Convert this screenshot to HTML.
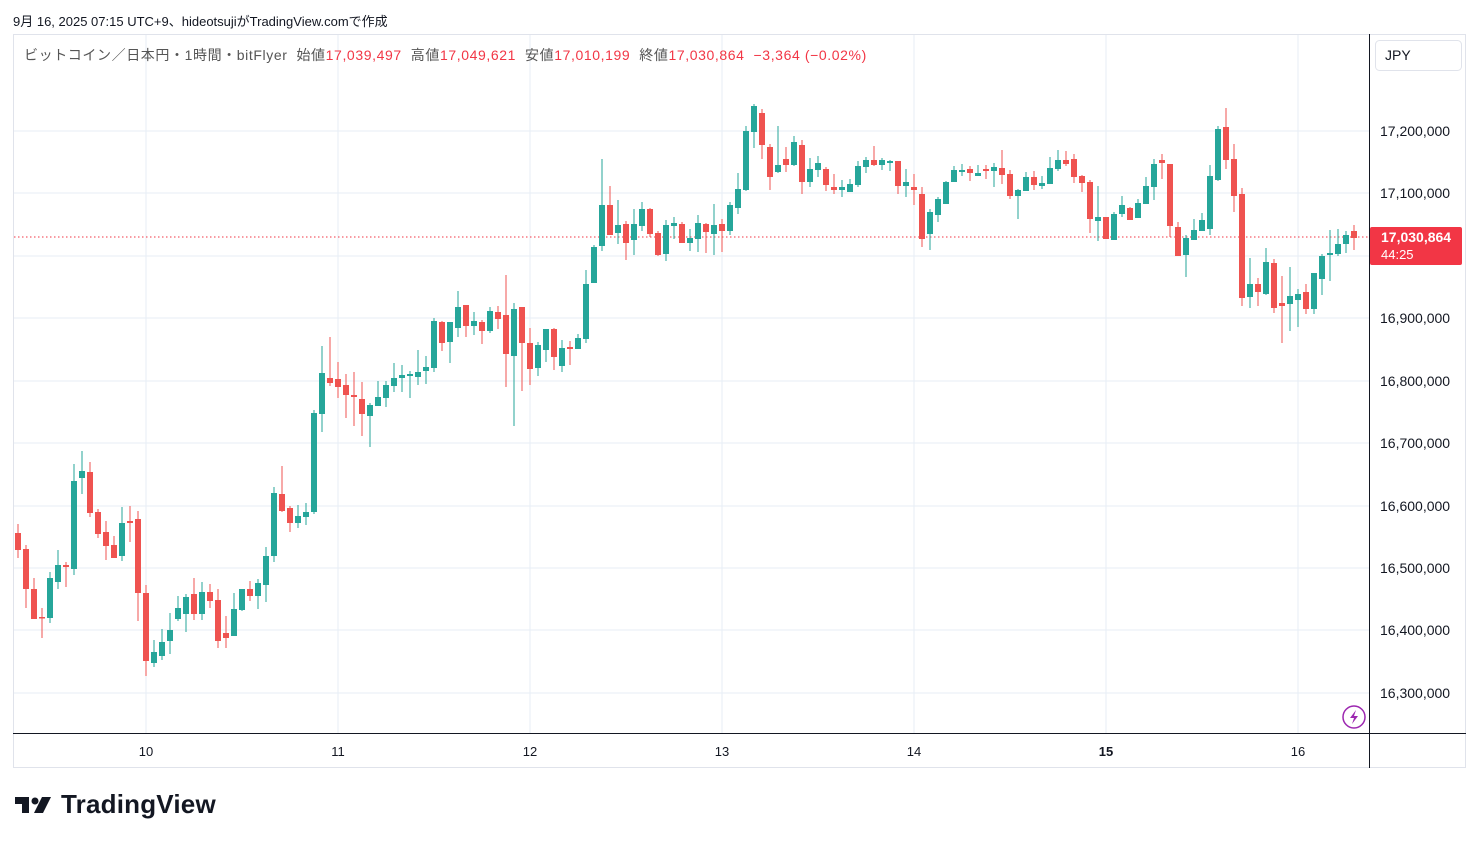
<!DOCTYPE html>
<html><head><meta charset="utf-8">
<style>
body{margin:0;width:1479px;height:843px;background:#fff;overflow:hidden;font-family:"Liberation Sans","Noto Sans CJK JP",sans-serif;}
.t{position:absolute;white-space:nowrap}
</style></head><body>
<div class="t" style="left:13px;top:11px;font-size:13px;color:#131722">9月 16, 2025 07:15 UTC+9、hideotsujiがTradingView.comで作成</div>
<svg id="s" width="1479" height="843" style="position:absolute;left:0;top:0"></svg>
<div class="t" style="left:24px;top:45px;font-size:14px;letter-spacing:0.6px;color:#555">ビットコイン／日本円・1時間・bitFlyer&nbsp; 始値<span style="color:#f23645">17,039,497</span>&nbsp; 高値<span style="color:#f23645">17,049,621</span>&nbsp; 安値<span style="color:#f23645">17,010,199</span>&nbsp; 終値<span style="color:#f23645">17,030,864</span>&nbsp; <span style="color:#f23645">−3,364 (−0.02%)</span></div>
<div class="t" style="left:15px;top:789px;font-size:26px;font-weight:bold;color:#131722;letter-spacing:0.2px">
<span style="display:inline-block;width:46px">
<svg width="38" height="20" viewBox="0 0 38 20" style="vertical-align:-2px"><path d="M0 2h14v16h-7v-9h-7z" fill="#131722"/><circle cx="20" cy="6" r="3.5" fill="#131722"/><path d="M27 2h9l-8 16h-9z" fill="#131722"/></svg></span>TradingView</div>
<script>
const D=[
[533,550,524,558,'r'],[549,589,545,608,'r'],[589,619,578,619,'r'],[617,618,608,638,'r'],[578,618,572,623,'g'],[565,582,550,589,'g'],[565,567,562,587,'r'],[481,569,464,575,'g'],[471,478,451,494,'g'],[472,513,462,517,'r'],
[512,534,509,538,'r'],[532,546,521,560,'r'],[545,558,536,558,'r'],[523,556,507,561,'g'],[521,523,506,542,'r'],[519,593,511,621,'r'],[593,661,585,676,'r'],[652,663,640,667,'g'],[642,656,629,660,'g'],[630,641,613,654,'g'],
[608,619,596,621,'g'],[597,614,594,632,'g'],[594,614,578,620,'r'],[592,614,582,620,'g'],[592,601,584,608,'r'],[600,641,589,648,'r'],[633,638,616,648,'r'],[609,636,593,636,'g'],[589,610,589,611,'g'],[589,596,581,601,'r'],
[583,596,579,609,'g'],[556,585,547,602,'g'],[493,556,487,562,'g'],[494,511,466,512,'r'],[508,523,506,532,'r'],[516,523,505,528,'g'],[512,517,503,525,'g'],[413,512,410,514,'g'],[373,414,346,432,'g'],[378,383,337,386,'r'],
[379,387,362,398,'r'],[385,395,374,418,'r'],[395,397,372,426,'r'],[399,414,382,436,'r'],[405,416,403,447,'g'],[397,406,381,406,'g'],[385,398,381,407,'g'],[378,386,363,392,'g'],[375,378,365,392,'g'],[374,376,371,398,'g'],
[372,377,350,385,'g'],[367,371,356,384,'g'],[321,368,318,372,'g'],[322,343,321,351,'r'],[322,342,322,363,'g'],[307,328,291,337,'g'],[305,326,305,337,'r'],[321,326,312,335,'g'],[322,331,320,344,'r'],[311,331,307,333,'g'],
[312,319,306,329,'r'],[315,354,275,387,'r'],[309,356,303,426,'g'],[307,343,307,391,'r'],[343,369,328,385,'r'],[345,368,342,376,'g'],[329,350,329,362,'g'],[329,357,328,370,'r'],[348,366,340,372,'g'],[347,349,341,365,'r'],
[338,349,334,349,'g'],[284,339,270,343,'g'],[247,283,245,283,'g'],[205,246,159,251,'g'],[205,235,186,235,'r'],[225,233,200,244,'g'],[224,243,221,260,'r'],[224,240,209,255,'g'],[209,226,202,231,'g'],[209,234,208,237,'r'],
[233,255,231,256,'r'],[225,254,220,261,'g'],[223,226,217,239,'g'],[224,243,222,243,'r'],[238,243,229,251,'g'],[223,239,215,252,'g'],[224,232,223,253,'r'],[225,234,204,255,'g'],[224,231,219,252,'r'],[205,231,202,235,'g'],
[189,208,173,214,'g'],[131,190,126,191,'g'],[106,132,104,148,'g'],[113,145,109,159,'r'],[147,177,144,190,'r'],[165,172,126,173,'g'],[159,165,147,172,'r'],[142,165,136,166,'g'],[145,182,140,194,'r'],[169,182,158,187,'g'],
[163,170,156,177,'g'],[169,185,167,191,'r'],[187,190,174,194,'r'],[187,190,180,197,'g'],[184,192,179,192,'g'],[166,185,161,187,'g'],[160,167,157,173,'g'],[160,165,146,166,'r'],[160,165,158,170,'g'],[161,163,160,171,'g'],
[161,186,161,194,'r'],[182,186,169,197,'g'],[187,190,174,205,'r'],[194,239,187,247,'r'],[212,234,209,250,'g'],[199,215,197,222,'g'],[182,204,181,204,'g'],[170,182,166,182,'g'],[170,172,164,176,'g'],[169,173,166,181,'r'],
[173,176,165,176,'g'],[169,171,165,179,'r'],[167,171,163,187,'g'],[168,175,150,184,'r'],[174,196,170,199,'r'],[190,196,189,219,'g'],[177,191,172,191,'g'],[177,185,171,190,'r'],[183,186,176,189,'g'],[168,184,157,184,'g'],
[160,169,150,171,'g'],[160,164,151,166,'r'],[159,177,154,183,'r'],[176,183,175,192,'r'],[182,219,180,233,'r'],[217,221,186,241,'g'],[217,239,217,239,'r'],[214,240,212,240,'g'],[205,214,196,217,'g'],[208,220,207,220,'r'],
[203,218,199,218,'g'],[186,204,177,204,'g'],[164,187,159,200,'g'],[160,163,154,179,'r'],[164,226,164,237,'r'],[227,256,222,256,'r'],[238,255,235,277,'g'],[230,240,219,240,'g'],[220,231,213,231,'g'],[176,229,165,235,'g'],
[129,180,126,181,'g'],[127,160,108,169,'r'],[159,196,144,212,'r'],[194,298,188,306,'r'],[284,297,258,308,'g'],[284,292,278,306,'r'],[262,294,248,295,'g'],[263,308,259,313,'r'],[303,306,276,343,'r'],[296,304,267,331,'g'],
[294,300,289,327,'g'],[292,309,284,314,'r'],[273,309,273,314,'g'],[256,279,254,295,'g'],[253,255,230,281,'g'],[244,254,229,256,'g'],[235,244,231,253,'g'],[231,238,225,250,'r']];
let h='';
h+='<rect x="13.5" y="34.5" width="1452" height="733" fill="none" stroke="#e0e3eb"/>';
[131,193,256,318,381,443,506,568,630,693].forEach(y=>h+=`<line x1="14" x2="1369" y1="${y}" y2="${y}" stroke="#e7eef5"/>`);
[146,338,530,722,914,1106,1298].forEach(x=>h+=`<line x1="${x}" x2="${x}" y1="35" y2="733" stroke="#e7eef5"/>`);
const P=['17,200,000','17,100,000','17,000,000','16,900,000','16,800,000','16,700,000','16,600,000','16,500,000','16,400,000','16,300,000'];
[131,193,256,318,381,443,506,568,630,693].forEach((y,i)=>{if(i!=2)h+=`<text x="1380" y="${y+5}" font-size="14" fill="#131722">${P[i]}</text>`});
h+='<line x1="14" x2="1369" y1="237" y2="237" stroke="#f23645" stroke-dasharray="1.5,2.5"/>';
D.forEach((d,i)=>{const x=18+8*i,c=d[4]=='g'?'#26a69a':'#ef5350';
h+=`<rect x="${x-0.5}" y="${d[2]}" width="1" height="${Math.max(1,d[3]-d[2])}" fill="${c}"/>`;
h+=`<rect x="${x-3}" y="${d[0]}" width="6" height="${Math.max(1.5,d[1]-d[0])}" fill="${c}"/>`;});
h+='<line x1="13" x2="1466" y1="733.5" y2="733.5" stroke="#131722"/>';
h+='<line x1="1369.5" x2="1369.5" y1="34" y2="768" stroke="#131722"/>';
['10','11','12','13','14','15','16'].forEach((t,i)=>h+=`<text x="${146+192*i}" y="756" font-size="13" text-anchor="middle" fill="#131722" ${t=='15'?'font-weight="bold"':''}>${t}</text>`);
h+='<rect x="1375.5" y="40.5" width="86" height="30" rx="4" fill="#fff" stroke="#e0e3eb"/><text x="1385" y="60" font-size="14" fill="#131722">JPY</text>';
h+='<rect x="1370" y="227" width="92" height="38" rx="2" fill="#f23645"/><text x="1381" y="242" font-size="14" font-weight="bold" fill="#fff">17,030,864</text><text x="1381" y="259" font-size="13" fill="#fff">44:25</text>';
h+='<circle cx="1354" cy="717" r="11" fill="#fff" stroke="#9c27b0" stroke-width="1.5"/><path d="M1356 710l-6 8h4l-2 6 6-8h-4z" fill="#9c27b0"/>';
document.getElementById('s').innerHTML=h;
</script>
</body></html>
